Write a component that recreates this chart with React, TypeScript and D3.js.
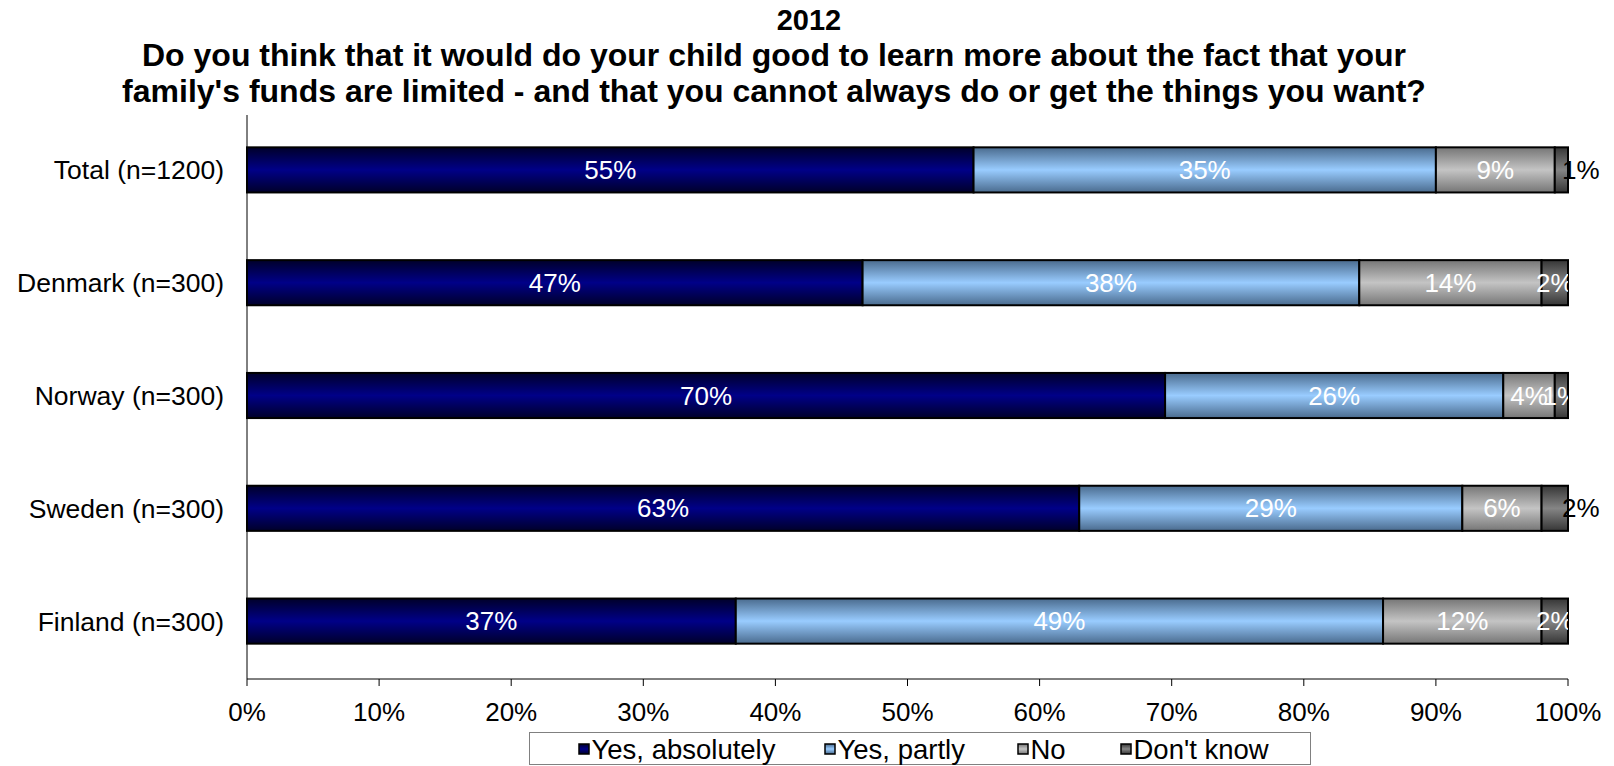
import React from "react";
import * as d3 from "d3";

const categories = ["Total (n=1200)", "Denmark (n=300)", "Norway (n=300)", "Sweden (n=300)", "Finland (n=300)"];
const seriesNames = ["Yes, absolutely", "Yes, partly", "No", "Don't know"];
const yesAbsolutely = [55, 46.6, 69.5, 63, 37];
const yesPartly = [35, 37.6, 25.6, 29, 49];
const no = [9, 13.8, 3.9, 6, 12];
const dontKnow = [1, 2.0, 1.0, 2, 2];
const xTicks = [0, 10, 20, 30, 40, 50, 60, 70, 80, 90, 100];
const titleLines = [
  "2012",
  "Do you think that it would do your child good to learn more about the fact that your",
  "family's funds are limited - and that you cannot always do or get the things you want?",
];
// rows where the last label was drawn outside (black) instead of clipped inside
const outsideLastLabel = ["Total (n=1200)", "Sweden (n=300)"];

const W = 1614;
const H = 766;
const M = { left: 247, right: 1568, top: 115, bottom: 679 };
const FONT = "'Liberation Sans', Arial, sans-serif";

const gradients = [
  { id: "g0", edge: "#00002a", mid: "#000088" },
  { id: "g1", edge: "#4a6b8e", mid: "#99ccff" },
  { id: "g2", edge: "#767676", mid: "#c4c4c4" },
  { id: "g3", edge: "#363636", mid: "#858585" },
];

export default function App() {
  const values = [yesAbsolutely, yesPartly, no, dontKnow];
  const x = d3.scaleLinear().domain([0, 100]).range([M.left, M.right]);
  const y = d3
    .scaleBand<string>()
    .domain(categories)
    .range([M.top - 1.5, M.bottom - 1.5])
    .paddingInner(0.6)
    .paddingOuter(0.3);

  const rows = categories.map((cat, i) => {
    let acc = 0;
    const segs = values.map((arr, s) => {
      const v = arr[i];
      const x0 = acc;
      acc += v;
      return { s, v, x0, x1: acc };
    });
    return { cat, segs };
  });

  const legendX = [579, 825, 1018, 1121];

  return (
    <svg
      width={W}
      height={H}
      style={{ position: "absolute", left: 0, top: 0, background: "#fff" }}
      fontFamily={FONT}
    >
      <defs>
        {gradients.map((g) => (
          <linearGradient key={g.id} id={g.id} x1="0" y1="0" x2="0" y2="1">
            <stop offset="0" stopColor={g.edge} />
            <stop offset="0.5" stopColor={g.mid} />
            <stop offset="1" stopColor={g.edge} />
          </linearGradient>
        ))}
        <clipPath id="plotClip">
          <rect x={M.left} y={M.top} width={M.right - M.left} height={M.bottom - M.top} />
        </clipPath>
      </defs>

      {titleLines.map((t, i) => (
        <text
          key={i}
          x={i === 0 ? 809 : 774}
          y={30 + i * 36}
          textAnchor="middle"
          fontWeight="bold"
          fontSize={i === 0 ? 29 : 32}
          fill="#000"
        >
          {t}
        </text>
      ))}

      {/* bars */}
      {rows.map((r) =>
        r.segs.map((sg) => (
          <rect
            key={r.cat + sg.s}
            x={x(sg.x0)}
            y={y(r.cat)}
            width={x(sg.x1) - x(sg.x0)}
            height={y.bandwidth()}
            fill={`url(#g${sg.s})`}
            stroke="#000"
            strokeWidth={2}
          />
        ))
      )}

      {/* axes */}
      <line x1={M.left} x2={M.left} y1={M.top} y2={M.bottom} stroke="#000" strokeWidth={1} />
      <line x1={M.left} x2={M.right} y1={M.bottom} y2={M.bottom} stroke="#000" strokeWidth={1} />
      {xTicks.map((t) => (
        <g key={t}>
          <line x1={x(t)} x2={x(t)} y1={M.bottom} y2={M.bottom + 7} stroke="#000" />
          <text x={x(t)} y={721} textAnchor="middle" fontSize={26} fill="#000">
            {t}%
          </text>
        </g>
      ))}

      {/* category labels */}
      {categories.map((c) => (
        <text
          key={c}
          x={224}
          y={(y(c) as number) + y.bandwidth() / 2 + 9.5}
          textAnchor="end"
          fontSize={26.5}
          fill="#000"
        >
          {c}
        </text>
      ))}

      {/* value labels */}
      <g clipPath="url(#plotClip)">
        {rows.map((r) =>
          r.segs.map((sg) => {
            const outside = sg.s === 3 && outsideLastLabel.includes(r.cat);
            if (outside) return null;
            return (
              <text
                key={r.cat + sg.s}
                x={(x(sg.x0) + x(sg.x1)) / 2}
                y={(y(r.cat) as number) + y.bandwidth() / 2 + 9}
                textAnchor="middle"
                fontSize={26}
                fill="#fff"
              >
                {Math.round(sg.v)}%
              </text>
            );
          })
        )}
      </g>
      {rows.map((r) =>
        r.segs.map((sg) => {
          const outside = sg.s === 3 && outsideLastLabel.includes(r.cat);
          if (!outside) return null;
          return (
            <text
              key={r.cat + sg.s}
              x={x(100) - 6}
              y={(y(r.cat) as number) + y.bandwidth() / 2 + 9}
              textAnchor="start"
              fontSize={26}
              fill="#000"
            >
              {Math.round(sg.v)}%
            </text>
          );
        })
      )}

      {/* legend */}
      <rect x={529.5} y={732.5} width={781} height={32} fill="#fff" stroke="#808080" strokeWidth={1} />
      {seriesNames.map((n, i) => (
        <g key={n}>
          <rect
            x={legendX[i]}
            y={744}
            width={10}
            height={10}
            fill={`url(#g${i})`}
            stroke="#000"
            strokeWidth={1.5}
          />
          <text x={legendX[i] + 12.5} y={758.5} fontSize={27.5} fill="#000">
            {n}
          </text>
        </g>
      ))}
    </svg>
  );
}
